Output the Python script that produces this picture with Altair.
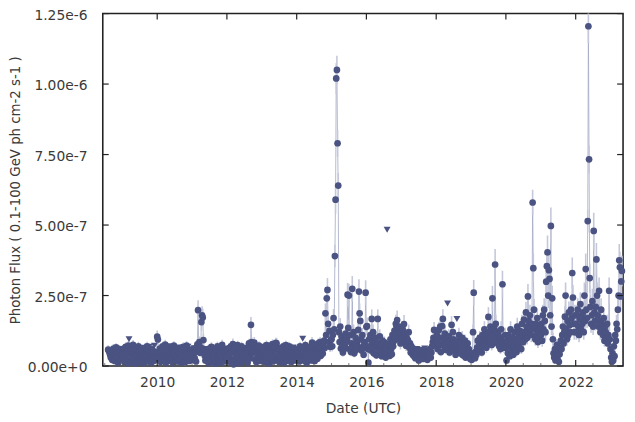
import altair as alt
import pandas as pd

# Weekly photon flux, units of 1e-9 ph cm-2 s-1 (0.1-100 GeV); errors same units
f2008 = [58,55,48,40,30,52,22,45,62,35, 18,40,66,45,28,12,50,60,25,42, 55]
e2008 = [16,15,15,14,13,15,12,13,16,14, 12,13,15,14,12,11,13,15,12,13, 14]
f2009 = [45,30,62,15,41,68,24,52,10,72, 95,42,20,58,12,48,75,22,55,30, 8,62,38,18,70,50,26,14,56,40, 65,30,10,46,64,20,38,70,16,52, 68,24,44,12,60,32,54,18,72,40, 26,48]
e2009 = [14,12,15,11,13,16,12,14,10,17, 0,13,12,15,10,13,17,11,14,12, 10,15,13,11,16,14,12,10,14,13, 0,12,10,13,15,11,13,16,11,14, 0,12,13,10,15,12,14,11,0,13, 12,13]
f2010 = [104,94,50,28,62,15,52,34,70,20, 46,24,76,12,55,38,66,22,70,44, 18,60,30,50,10,72,40,22,64,32, 56,16,66,46,26,62,12,50,36,68, 20,54,14,42,72,28,68,40,18,58, 48,30]
e2010 = [22,20,14,12,15,11,14,13,16,11, 13,12,17,10,14,13,15,12,0,13, 11,15,12,14,10,16,13,12,15,12, 14,11,0,13,12,15,10,14,13,16, 12,14,11,13,16,12,0,13,11,14, 13,12]
f2011 = [42,22,60,63,28,50,16,66,77,198, 58,85,47,66,156,180,172,92,60,36, 20,52,60,18,48,10,62,38,24,68, 14,52,62,30,46,8,58,22,70,40, 18,54,36,12,64,75,26,50,16,44, 60,24]
e2011 = [13,12,15,0,12,14,11,15,20,35, 16,20,14,18,30,32,31,22,15,13, 12,14,0,11,14,10,15,13,12,16, 11,14,0,12,13,10,15,12,16,13, 11,14,13,10,15,18,12,14,11,13, 15,12]
f2012 = [30,52,16,64,40,22,70,12,48,78, 6,56,26,66,16,42,74,28,10,60, 50,20,70,36,14,62,28,52,20,64, 40,12,54,80,66,28,146,85,46,70, 56,83,24,52,14,64,40,26,72,18, 48,34]
e2012 = [12,14,11,15,13,12,16,10,13,20, 8,14,12,15,11,13,16,12,10,15, 14,11,16,13,10,0,12,14,11,15, 13,10,14,17,15,12,28,18,13,16, 15,20,12,14,11,15,13,12,16,11, 14,13]
f2013 = [24,56,40,68,14,50,28,74,18,62, 38,10,54,72,22,46,78,16,58,34, 66,82,80,64,24,50,14,62,36,63, 22,56,70,12,46,26,74,50,18,60, 32,70,22,48,14,64,40,66,28,54, 20,60]
e2013 = [12,14,13,15,11,14,12,16,11,15, 13,10,14,16,12,13,17,11,14,13, 15,18,20,15,12,14,11,15,13,0, 12,14,16,10,13,12,16,14,11,15, 13,16,12,14,11,15,13,0,12,14, 12,15]
f2014 = [38,22,58,46,16,70,32,54,24,97, 44,64,18,74,40,12,66,48,24,58, 36,70,20,83,52,30,76,18,62,44, 70,26,80,48,64,85,36,76,60,44, 75,90,64,187,110,240,270,150,85,125, 68,92]
e2014 = [13,12,15,14,11,16,13,14,12,0, 13,15,12,16,13,11,15,14,12,14, 13,16,12,20,14,13,17,12,15,14, 16,12,18,14,15,18,13,17,16,14, 20,22,18,35,25,40,42,30,22,28, 18,22]
f2015 = [95,70,110,170,130,390,590,1020,1050,790, 640,120,85,140,62,105,75,48,88,60, 70,115,85,95,253,135,250,60,110,50, 80,274,65,120,45,78,100,58,84,70, 128,264,187,160,95,55,110,68,40,85, 75,260]
e2015 = [22,18,25,32,28,40,50,55,50,48, 45,26,22,30,18,24,20,15,22,17, 18,26,22,24,42,30,42,17,25,15, 20,45,18,27,14,20,24,17,21,18, 28,44,35,32,24,16,25,18,13,22, 20,44]
f2016 = [139,142,60,12,95,70,110,55,167,85, 120,45,90,66,100,38,75,167,80,58, 105,48,72,35,90,62,40,84,55,30, 68,483,45,78,52,36,95,60,42,110, 70,88,125,100,150,139,163,120,95,140, 110,80]
e2016 = [30,30,17,8,24,18,26,16,34,22, 27,14,23,18,24,12,20,34,21,17, 25,14,19,12,23,18,13,21,16,11, 18,0,14,20,15,12,24,17,13,26, 19,22,28,24,32,30,34,27,24,30, 26,21]
f2017 = [120,95,130,105,149,88,115,72,100,94, 90,120,65,80,48,70,55,40,62,35, 50,28,45,60,33,52,20,42,38,58, 30,45,25,50,36,62,28,40,47,22, 55,35,42,60,30,48,70,85,100,128, 75,90]
e2017 = [27,24,29,25,32,22,27,19,24,23, 22,27,18,21,15,19,16,13,17,12, 15,10,14,0,12,15,9,13,12,0, 11,14,10,15,12,0,10,13,14,9, 16,12,13,17,11,15,19,21,24,28, 20,22]
f2018 = [85,110,60,95,128,75,140,50,100,142, 167,90,70,115,58,95,80,222,65,105, 48,88,72,146,60,120,95,55,80,40, 70,167,90,52,110,75,45,85,62,100, 38,70,55,90,30,65,48,80,42,60, 35,25]
e2018 = [21,26,17,23,28,20,30,15,24,30, 34,22,19,26,16,23,20,0,18,25, 14,22,19,31,17,27,23,16,20,13, 19,0,22,15,26,20,14,21,17,24, 12,19,16,22,11,18,14,20,13,17, 12,10]
f2019 = [30,22,45,120,260,35,28,50,40,65, 90,55,75,100,60,85,48,110,70,95, 130,80,105,65,115,90,174,120,85,140, 100,75,240,110,90,130,360,150,95,120, 80,110,70,100,60,130,90,290,85,65, 75,110]
e2019 = [11,9,14,27,45,12,10,15,13,18, 22,16,20,24,17,21,15,26,19,23, 29,20,25,18,27,22,35,27,21,31, 24,20,44,26,22,29,55,32,23,27, 20,26,19,24,17,29,22,48,21,18, 20,26]
f2020 = [65,20,90,45,110,70,35,130,85,55, 100,40,75,120,60,95,50,140,80,105, 70,125,90,60,150,110,85,165,120,95, 190,140,100,247,160,120,180,135,110,150, 580,347,200,130,95,150,110,170,85,125, 100,140]
e2020 = [18,9,22,14,26,19,12,29,21,16, 24,13,20,27,17,23,15,31,21,25, 19,28,22,17,32,26,21,34,27,23, 38,31,24,44,34,27,37,30,26,32, 45,52,38,29,23,32,26,35,21,28, 24,31]
f2021 = [110,150,90,180,130,200,160,120,299,354, 403,250,340,309,180,497,140,240,95,45, 30,60,20,38,75,25,50,15,42,65, 90,60,110,140,80,120,175,250,130,95, 160,110,190,145,120,200,170,330,243,150, 120,180]
e2021 = [26,32,22,37,29,40,34,27,50,55, 60,45,54,50,37,65,31,45,23,14, 11,17,9,13,20,10,15,8,13,18, 23,17,26,31,20,27,36,46,29,23, 34,26,39,31,27,40,35,55,44,32, 27,37]
f2022 = [150,120,180,200,140,110,165,220,130,175, 150,190,120,250,160,344,200,170,514,1205, 733,312,210,150,180,230,140,479,190,160, 210,378,250,180,140,267,160,120,200,150, 130,110,170,90,140,120,100,150,80,110, 267,95]
e2022 = [32,27,37,40,30,26,34,42,29,36, 32,38,27,46,33,55,40,35,40,60, 50,52,41,32,37,44,30,65,38,34, 41,58,46,37,30,47,33,27,40,32, 29,26,35,22,30,27,24,32,20,26, 47,23]
f2023 = [60,30,15,45,20,70,35,110,90,150, 130,200,250,375,350,247,300,337]
e2023 = [17,11,8,14,9,19,12,26,22,32, 29,40,46,58,55,45,50,54]

# Upper limits (week index within each year's list)
ul_weeks = {2009: [10, 30, 40, 48], 2010: [18, 32, 46], 2011: [3, 22, 32], 2012: [25],
            2013: [29, 47], 2014: [9], 2016: [31], 2017: [23, 29, 35], 2018: [17, 31]}

y_ticks = [0, 2.5e-7, 5.0e-7, 7.5e-7, 1.0e-6, 1.25e-6]
major_years = [2010, 2012, 2014, 2016, 2018, 2020, 2022]

flux_by_year = {2008: f2008, 2009: f2009, 2010: f2010, 2011: f2011, 2012: f2012, 2013: f2013,
                2014: f2014, 2015: f2015, 2016: f2016, 2017: f2017, 2018: f2018, 2019: f2019,
                2020: f2020, 2021: f2021, 2022: f2022, 2023: f2023}
err_by_year = {2008: e2008, 2009: e2009, 2010: e2010, 2011: e2011, 2012: e2012, 2013: e2013,
               2014: e2014, 2015: e2015, 2016: e2016, 2017: e2017, 2018: e2018, 2019: e2019,
               2020: e2020, 2021: e2021, 2022: e2022, 2023: e2023}

rows = []
for yr, vals in flux_by_year.items():
    errs = err_by_year[yr]
    start = pd.Timestamp("2008-08-05") if yr == 2008 else pd.Timestamp(f"{yr}-01-01")
    for k, v in enumerate(vals):
        e = errs[k] if k < len(errs) else 0
        d = start + pd.Timedelta(days=7 * k)
        ul = k in ul_weeks.get(yr, [])
        rows.append(dict(date=d.strftime("%Y-%m-%d"), flux=v * 1e-9,
                         lo=max(v - e, 0) * 1e-9, hi=(v + e) * 1e-9,
                         kind="ul" if ul else "det"))
df = pd.DataFrame(rows)

W, H = 527, 357
xdom = [alt.DateTime(year=2008, month=6, date=10), alt.DateTime(year=2023, month=5, date=12)]
xs = alt.Scale(domain=xdom)
ys = alt.Scale(domain=[0, 1.25e-6], nice=False)

base = alt.Chart(df)
det = base.transform_filter(alt.datum.kind == "det")
x_enc = alt.X("date:T", scale=xs, title="Date (UTC)",
              axis=alt.Axis(values=[alt.DateTime(year=y) for y in major_years], format="%Y",
                            labelPadding=10, titlePadding=12, titleFontSize=14))
y_enc = alt.Y("flux:Q", scale=ys, title="Photon Flux ( 0.1-100 GeV ph cm-2 s-1 )",
              axis=alt.Axis(values=y_ticks, format=".2e", labelPadding=16, titlePadding=5,
                            labelOffset=2, titleFontSize=13.5))

line = det.mark_line(color="#a3a9c4", strokeWidth=0.8).encode(x=x_enc, y=y_enc)
errs_l = det.mark_rule(color="#c4c8da", strokeWidth=1.6, clip=True).encode(
    x="date:T", y="lo:Q", y2="hi:Q")
pts = det.mark_point(shape="circle", filled=True, size=46, color="#4a5382", opacity=1).encode(
    x="date:T", y="flux:Q")
tri = base.transform_filter(alt.datum.kind == "ul").mark_point(
    shape="triangle-down", filled=True, size=50, color="#4a5382", opacity=1).encode(
    x="date:T", y="flux:Q")

ytick_df = pd.DataFrame({"flux": y_ticks})
left_t = alt.Chart(ytick_df).mark_rule(color="#222", strokeWidth=1.2).encode(
    y="flux:Q", x=alt.value(0), x2=alt.value(6))
right_t = alt.Chart(ytick_df).mark_rule(color="#222", strokeWidth=1.2).encode(
    y="flux:Q", x=alt.value(W - 6), x2=alt.value(W))
xtick_df = pd.DataFrame({"date": [f"{y}-01-01" for y in major_years]})
top_t = alt.Chart(xtick_df).mark_rule(color="#222", strokeWidth=1.2).encode(
    x="date:T", y=alt.value(0), y2=alt.value(6))
bot_t = alt.Chart(xtick_df).mark_rule(color="#222", strokeWidth=1.2).encode(
    x="date:T", y=alt.value(H - 6), y2=alt.value(H))
minor_dates = [f"{y}-07-01" for y in range(2008, 2023)] + [f"{y}-01-01" for y in range(2009, 2024, 2)]
minor_df = pd.DataFrame({"date": minor_dates})
minor_t = alt.Chart(minor_df).mark_rule(color="#555", strokeWidth=0.8).encode(
    x="date:T", y=alt.value(H - 3), y2=alt.value(H))

chart = alt.layer(line, errs_l, pts, tri, left_t, right_t, top_t, bot_t, minor_t).properties(
    width=W, height=H,
    padding={"left": 96, "top": 3, "right": 4, "bottom": 50},
    autosize=alt.AutoSizeParams(type="none"),
    background="white",
).configure_view(stroke="#222", strokeWidth=1.6).configure_axis(
    domain=False, ticks=False, grid=False,
    labelFont="DejaVu Sans", titleFont="DejaVu Sans",
    labelFontSize=14, labelColor="#3a3a3a", titleColor="#3a3a3a",
    titleFontWeight="normal",
)

chart.save("out.html", embed_options={"renderer": "svg", "actions": False})
